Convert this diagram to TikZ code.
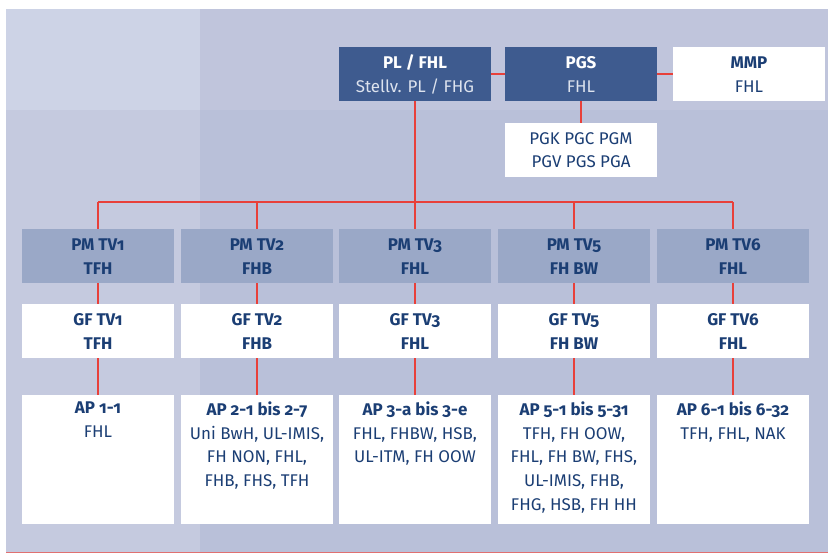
\documentclass[tikz,border=0pt]{standalone}
\usepackage{fontspec}
\setmainfont{Fira Sans}[Numbers=OldStyle]
\definecolor{panel}{HTML}{B9C0D9}
\definecolor{panelleft}{HTML}{C5CADF}
\definecolor{paneltop}{HTML}{C0C5DC}
\definecolor{panelcorner}{HTML}{CDD3E6}
\definecolor{darkblue}{HTML}{3E5B8F}
\definecolor{pmblue}{HTML}{9AA8C7}
\definecolor{textblue}{HTML}{1B3E74}
\definecolor{lighttext}{HTML}{DDE3EE}
\definecolor{linered}{HTML}{E8403A}
\definecolor{bottomred}{HTML}{E07070}
\newcommand\aptext[2]{\parbox[t][117pt][t]{150pt}{\centering\textbf{#1}\\#2}}
\begin{document}
\begin{tikzpicture}[x=1bp, y=-1bp,
    line/.style={draw=linered, line width=1.8bp},
    box/.style={rectangle, anchor=north, minimum width=152bp, minimum height=54bp,
        inner sep=0pt, align=center, font=\fontsize{17}{24}\selectfont},
    darkbox/.style={box, fill=darkblue, text=white},
    pmbox/.style={box, fill=pmblue, text=textblue},
    whitebox/.style={box, fill=white, text=textblue},
    apbox/.style={whitebox, minimum height=129bp}]
    \useasboundingbox (0,0) rectangle (828,553);
    % background panel
    \fill[panel] (6,9) rectangle (828,552);
    \fill[panelleft] (6,9) rectangle (200,552);
    \fill[paneltop] (200,9) rectangle (828,110);
    \fill[panelcorner] (6,9) rectangle (200,110);
    \draw[bottomred, line width=1bp] (6,552) -- (828,552);
    % top level
    \node[darkbox] (pl) at (415,47) {\textbf{PL / FHL}\\\color{lighttext}Stellv. PL / FHG};
    \node[darkbox] (pgs) at (581,47) {\textbf{PGS}\\\color{lighttext}FHL};
    \node[whitebox] (mmp) at (749,47) {\textbf{MMP}\\FHL};
    \node[whitebox] (pgk) at (581,123) {PGK PGC PGM\\PGV PGS PGA};
    \draw[line] (pl) -- (pgs);
    \draw[line] (pgs) -- (mmp);
    \draw[line] (pgs) -- (pgk);
    \coordinate (bus) at (0,202);
    % work packages
    \foreach \x/\tv/\org/\ap/\aplist in {
        98/1/TFH/AP 1-1/FHL,
        257/2/FHB/AP 2-1 bis 2-7/{Uni BwH, UL-IMIS,\\FH NON, FHL,\\FHB, FHS, TFH},
        415/3/FHL/AP 3-a bis 3-e/{FHL, FHBW, HSB,\\UL-ITM, FH OOW},
        574/5/FH BW/AP 5-1 bis 5-31/{TFH, FH OOW,\\FHL, FH BW, FHS,\\UL-IMIS, FHB,\\FHG, HSB, FH HH},
        733/6/FHL/AP 6-1 bis 6-32/{TFH, FHL, NAK}}
    {%
        \node[pmbox] (pm\tv) at (\x,229) {\textbf{PM TV\tv}\\\textbf{\org}};
        \node[whitebox] (gf\tv) at (\x,304) {\textbf{GF TV\tv}\\\textbf{\org}};
        \node[apbox] (ap\tv) at (\x,395) {\aptext{\ap}{\aplist}};
        \draw[line] (pm\tv.north) -- (pm\tv.north |- bus);
        \draw[line] (pm\tv) -- (gf\tv);
        \draw[line] (gf\tv) -- (ap\tv);
    }
    \draw[line] (pm1.north |- bus) -- (pm6.north |- bus);
    \draw[line] (pl) -- (pl.south |- bus);
\end{tikzpicture}
\end{document}
